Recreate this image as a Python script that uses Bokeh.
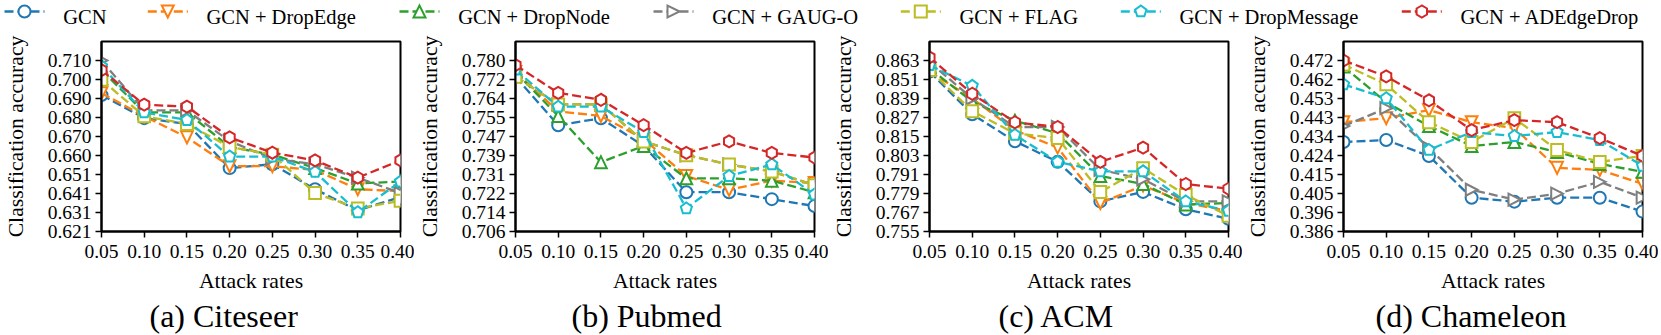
import numpy as np
from bokeh.plotting import figure
from bokeh.models import Range1d, FixedTicker, CustomJSTickFormatter
from bokeh.layouts import column, row
from bokeh.embed import file_html
from bokeh.resources import INLINE
from bokeh.core.properties import value

# ---------------- data ----------------
attack_rates = [0.05, 0.10, 0.15, 0.20, 0.25, 0.30, 0.35, 0.40]
x_tick_labels = ["0.05", "0.10", "0.15", "0.20", "0.25", "0.30", "0.35", "0.40"]

methods = ["GCN", "GCN + DropEdge", "GCN + DropNode", "GCN + GAUG-O",
           "GCN + FLAG", "GCN + DropMessage", "GCN + ADEdgeDrop"]

captions = ["(a) Citeseer", "(b) Pubmed", "(c) ACM", "(d) Chameleon"]

citeseer_yticks = ["0.621", "0.631", "0.641", "0.651", "0.660", "0.670", "0.680", "0.690", "0.700", "0.710"]
citeseer_gcn = [0.692, 0.680, 0.677, 0.654, 0.656, 0.643, 0.632, 0.639]
citeseer_dropedge = [0.693, 0.681, 0.670, 0.655, 0.655, 0.653, 0.643, 0.642]
citeseer_dropnode = [0.705, 0.683, 0.683, 0.665, 0.661, 0.654, 0.646, 0.647]
citeseer_gaugo = [0.710, 0.684, 0.684, 0.668, 0.659, 0.656, 0.649, 0.641]
citeseer_flag = [0.700, 0.681, 0.677, 0.665, 0.661, 0.641, 0.633, 0.637]
citeseer_dropmessage = [0.707, 0.683, 0.679, 0.660, 0.660, 0.652, 0.631, 0.647]
citeseer_adedgedrop = [0.705, 0.687, 0.686, 0.670, 0.662, 0.658, 0.649, 0.658]

pubmed_yticks = ["0.706", "0.714", "0.722", "0.731", "0.739", "0.747", "0.755", "0.764", "0.772", "0.780"]
pubmed_gcn = [0.773, 0.752, 0.755, 0.743, 0.723, 0.723, 0.720, 0.717]
pubmed_dropedge = [0.775, 0.758, 0.756, 0.746, 0.730, 0.724, 0.728, 0.727]
pubmed_dropnode = [0.775, 0.756, 0.736, 0.743, 0.729, 0.729, 0.728, 0.723]
pubmed_gaugo = [0.773, 0.761, 0.761, 0.745, 0.739, 0.735, 0.732, 0.726]
pubmed_flag = [0.773, 0.761, 0.761, 0.745, 0.739, 0.735, 0.732, 0.726]
pubmed_dropmessage = [0.776, 0.760, 0.760, 0.749, 0.716, 0.730, 0.735, 0.722]
pubmed_adedgedrop = [0.778, 0.766, 0.763, 0.752, 0.740, 0.745, 0.740, 0.738]

acm_yticks = ["0.755", "0.767", "0.779", "0.791", "0.803", "0.815", "0.827", "0.839", "0.851", "0.863"]
acm_gcn = [0.856, 0.829, 0.812, 0.799, 0.774, 0.780, 0.769, 0.763]
acm_dropedge = [0.856, 0.839, 0.819, 0.808, 0.773, 0.784, 0.773, 0.768]
acm_dropnode = [0.858, 0.837, 0.825, 0.817, 0.790, 0.785, 0.772, 0.773]
acm_gaugo = [0.862, 0.839, 0.821, 0.821, 0.794, 0.788, 0.774, 0.774]
acm_flag = [0.857, 0.831, 0.817, 0.814, 0.780, 0.795, 0.778, 0.765]
acm_dropmessage = [0.860, 0.847, 0.816, 0.799, 0.793, 0.793, 0.774, 0.768]
acm_adedgedrop = [0.865, 0.842, 0.824, 0.821, 0.799, 0.808, 0.785, 0.782]

chameleon_yticks = ["0.386", "0.396", "0.405", "0.415", "0.424", "0.434", "0.443", "0.453", "0.462", "0.472"]
chameleon_gcn = [0.431, 0.432, 0.424, 0.403, 0.401, 0.403, 0.403, 0.396]
chameleon_dropedge = [0.441, 0.443, 0.447, 0.441, 0.438, 0.418, 0.417, 0.410]
chameleon_dropnode = [0.469, 0.451, 0.439, 0.429, 0.431, 0.426, 0.420, 0.416]
chameleon_gaugo = [0.439, 0.448, 0.428, 0.407, 0.402, 0.405, 0.411, 0.403]
chameleon_flag = [0.470, 0.460, 0.441, 0.431, 0.443, 0.427, 0.421, 0.424]
chameleon_dropmessage = [0.460, 0.453, 0.427, 0.436, 0.434, 0.436, 0.432, 0.419]
chameleon_adedgedrop = [0.472, 0.464, 0.452, 0.437, 0.442, 0.441, 0.433, 0.424]

# ---------------- styles ----------------
FONT = "Liberation Serif"
colors = ["#1f77b4", "#ff7f0e", "#2ca02c", "#7f7f7f", "#bcbd22", "#17becf", "#d62728"]
marker_kinds = ["circle", "tri_down", "tri_up", "tri_right", "square", "pentagon", "hexagon"]

def reg_poly(n, start_deg):
    return [(np.cos(np.radians(start_deg + 360.0 * k / n)), np.sin(np.radians(start_deg + 360.0 * k / n))) for k in range(n)]

SHAPES = {
    "tri_up": [(0, 1), (-1, -1), (1, -1)],
    "tri_down": [(0, -1), (-1, 1), (1, 1)],
    "tri_right": [(1, 0), (-1, 1), (-1, -1)],
    "square": [(-1, -1), (1, -1), (1, 1), (-1, 1)],
    "pentagon": reg_poly(5, 90),
    "hexagon": reg_poly(6, 90),
}
MS = 12  # marker size in px
LW = 2.3
DASH = "9 4"

def polys(xs, ys, kind, kx, ky):
    r = MS / 2.0
    verts = SHAPES[kind]
    px = [[x + vx * r * kx for vx, vy in verts] for x in xs]
    py = [[y + vy * r * ky for vx, vy in verts] for y in ys]
    return px, py

def draw_marker(p, xs, ys, kind, color, kx, ky):
    if kind == "circle":
        p.scatter(xs, ys, marker="circle", size=MS, line_color=color, line_width=2, fill_color="white")
    else:
        px, py = polys(xs, ys, kind, kx, ky)
        p.patches(px, py, line_color=color, line_width=2, fill_color="white", line_join="miter")

# ---------------- layout constants ----------------
FRAME_W = 307
FRAME_H = 190
LEFT_B = 93
LEG_H = 30
TOP_B = 41 - LEG_H
BOTTOM_B = 104
caption_offsets = [48, 56, 69, 32]

def make_panel(caption, yticks, series, caption_dx, right_b):
    lo = float(yticks[0]); hi = float(yticks[-1]); step = (hi - lo) / 9.0
    y0, y1 = lo, lo + 10 * step
    x0, x1 = attack_rates[0], attack_rates[-1]
    p = figure(width=LEFT_B + FRAME_W + right_b, height=TOP_B + FRAME_H + BOTTOM_B,
               x_range=Range1d(x0, x1), y_range=Range1d(y0, y1),
               output_backend="svg", toolbar_location=None,
               title=caption, title_location="below",
               min_border_left=LEFT_B, min_border_right=right_b,
               min_border_top=TOP_B, min_border_bottom=BOTTOM_B)
    p.title.align = "left"
    p.title.offset = caption_dx
    p.title.standoff = 0
    p.title.text_font = FONT
    p.title.text_font_size = "32px"
    p.title.text_font_style = "normal"
    p.title.text_color = "black"
    p.background_fill_color = "white"
    p.border_fill_color = "white"
    p.outline_line_color = "black"
    p.outline_line_width = 2
    p.xgrid.visible = False
    p.ygrid.visible = False
    for ax in (p.xaxis[0], p.yaxis[0]):
        ax.axis_line_color = "black"
        ax.axis_line_width = 2
        ax.major_tick_line_color = "black"
        ax.major_tick_line_width = 1.5
        ax.major_tick_out = 6
        ax.major_tick_in = 0
        ax.minor_tick_line_color = None
        ax.major_label_text_font = FONT
        ax.major_label_text_font_size = "19.5px"
        ax.major_label_text_color = "black"
        ax.axis_label_text_font = FONT
        ax.axis_label_text_font_size = "21.7px"
        ax.axis_label_text_font_style = "normal"
        ax.axis_label_text_color = "black"
    xa = p.xaxis[0]
    xa.ticker = FixedTicker(ticks=attack_rates)
    xa.formatter = CustomJSTickFormatter(args=dict(labels=x_tick_labels, lo=x0, step=0.05),
                                         code="return labels[Math.round((tick - lo) / step)];")
    xa.major_label_standoff = 7
    xa.axis_label = "Attack rates"
    xa.axis_label_standoff = 8
    ya = p.yaxis[0]
    ya.ticker = FixedTicker(ticks=[float(v) for v in np.linspace(lo, hi, 10)])
    ya.formatter = CustomJSTickFormatter(args=dict(labels=yticks, lo=lo, step=step),
                                         code="return labels[Math.round((tick - lo) / step)];")
    ya.major_label_standoff = 4
    ya.axis_label = "Classification accuracy"
    ya.axis_label_standoff = 17

    kx = (x1 - x0) / FRAME_W
    ky = (y1 - y0) / FRAME_H
    for ys, color, kind in zip(series, colors, marker_kinds):
        p.line(attack_rates, ys, line_color=color, line_width=LW, line_dash=DASH)
        draw_marker(p, attack_rates, ys, kind, color, kx, ky)
    return p

panels = [
    make_panel(captions[0], citeseer_yticks,
               [citeseer_gcn, citeseer_dropedge, citeseer_dropnode, citeseer_gaugo,
                citeseer_flag, citeseer_dropmessage, citeseer_adedgedrop], caption_offsets[0], 14),
    make_panel(captions[1], pubmed_yticks,
               [pubmed_gcn, pubmed_dropedge, pubmed_dropnode, pubmed_gaugo,
                pubmed_flag, pubmed_dropmessage, pubmed_adedgedrop], caption_offsets[1], 14),
    make_panel(captions[2], acm_yticks,
               [acm_gcn, acm_dropedge, acm_dropnode, acm_gaugo,
                acm_flag, acm_dropmessage, acm_adedgedrop], caption_offsets[2], 14),
    make_panel(captions[3], chameleon_yticks,
               [chameleon_gcn, chameleon_dropedge, chameleon_dropnode, chameleon_gaugo,
                chameleon_flag, chameleon_dropmessage, chameleon_adedgedrop], caption_offsets[3], 16),
]

TOTAL_W = sum(p.width for p in panels)

# ---------------- legend (pixel-unit figure) ----------------
leg = figure(width=TOTAL_W, height=LEG_H, x_range=Range1d(0, TOTAL_W), y_range=Range1d(0, LEG_H),
             output_backend="svg", toolbar_location=None, title=None,
             x_axis_location=None, y_axis_location=None,
             min_border=0, min_border_left=0, min_border_right=0, min_border_top=0, min_border_bottom=0)
leg.outline_line_color = None
leg.xgrid.visible = False
leg.ygrid.visible = False
leg.background_fill_color = "white"
leg.border_fill_color = "white"

legend_text_x = [62.7, 206, 457.7, 711.7, 959, 1179, 1460]
LEG_Y = LEG_H - 11
LEG_BASE = LEG_H - 16.7
for name, color, kind, tx in zip(methods, colors, marker_kinds, legend_text_x):
    x_start = tx - 58.7
    leg.segment(x0=[x_start], y0=[LEG_Y], x1=[x_start + 40], y1=[LEG_Y],
                line_color=color, line_width=LW, line_dash=DASH)
    draw_marker(leg, [x_start + 20], [LEG_Y], kind, color, 1.0, 1.0)
leg.text(x=legend_text_x, y=[LEG_BASE] * len(methods), text=methods,
         text_font=value(FONT), text_font_size="20.5px", text_color="black",
         text_baseline="alphabetic", text_align="left")

layout = column(leg, row(*panels))

open("out.html", "w").write(file_html(layout, INLINE))
